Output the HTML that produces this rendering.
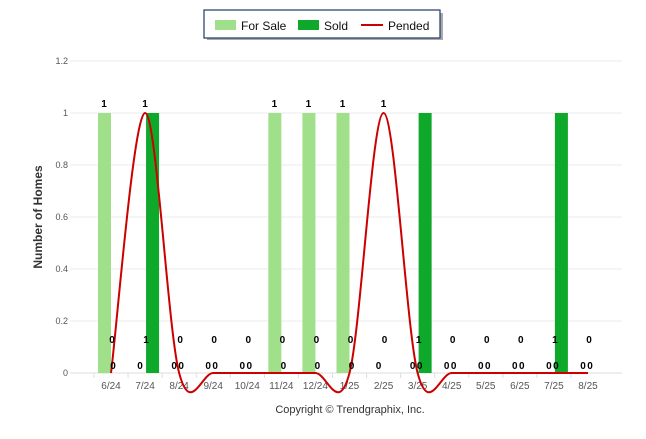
<!DOCTYPE html>
<html><head><meta charset="utf-8"><style>
body{margin:0;background:#fff;font-family:"Liberation Sans",sans-serif}
svg text{font-family:"Liberation Sans",sans-serif}
</style></head><body>
<svg id="c" width="646" height="434">
<g>
<rect x="207" y="13" width="236" height="27" fill="#555" opacity="0.5"/>
<rect x="204" y="10" width="236" height="28" fill="#fff" stroke="#1f3864" stroke-width="1.2"/>
<rect x="215" y="20" width="21" height="10" fill="#a0e08a"/>
<text x="241" y="30" font-size="12" fill="#111">For Sale</text>
<rect x="298" y="20" width="21" height="10" fill="#0ea82a"/>
<text x="324" y="30" font-size="12" fill="#111">Sold</text>
<line x1="361" y1="25" x2="383" y2="25" stroke="#cc0000" stroke-width="2"/>
<text x="388" y="30" font-size="12" fill="#111">Pended</text>
</g>
<text transform="translate(42,217) rotate(-90)" text-anchor="middle" font-size="12" font-weight="bold" fill="#333">Number of Homes</text>
<text x="350" y="413" text-anchor="middle" font-size="11" fill="#333">Copyright © Trendgraphix, Inc.</text>
<g id="plot"></g>
</svg>
<script>
const categories=["6/24","7/24","8/24","9/24","10/24","11/24","12/24","1/25","2/25","3/25","4/25","5/25","6/25","7/25","8/25"];
const forSale=[1,0,0,0,0,1,1,1,0,0,0,0,0,0,0];
const sold=[0,1,0,0,0,0,0,0,0,1,0,0,0,1,0];
const pended=[0,1,0,0,0,0,0,0,1,0,0,0,0,0,0];
const yTicks=[0,0.2,0.4,0.6,0.8,1,1.2];
const NS="http://www.w3.org/2000/svg";
const g=document.getElementById('plot');
const x=i=>111+i*34.07;
const y=v=>373-v*260;
function mk(t,a,p){const e=document.createElementNS(NS,t);for(const k in a)e.setAttribute(k,a[k]);(p||g).appendChild(e);return e;}
yTicks.forEach(v=>{
 const l=mk('line',{x1:70,x2:622,y1:y(v),y2:y(v),stroke:v===0?'#ddd':'#ebebeb'});
 
 
 const t=mk('text',{x:68,y:y(v)+3,'text-anchor':'end','font-size':9,fill:'#555'});t.textContent=v;
 
 
});
categories.forEach((c,i)=>{
 const tk=mk('line',{x1:x(i)-17,x2:x(i)-17,y1:373,y2:378,stroke:'#ddd'});
 
 
 const t=mk('text',{x:x(i),y:389,'text-anchor':'middle','font-size':10,fill:'#555'});t.textContent=c;
 
 
 if(forSale[i]>0){const r=mk('rect',{x:x(i)-13,y:y(forSale[i]),width:13,height:373-y(forSale[i]),fill:'#a0e08a'});
 
 }
 if(sold[i]>0){const r=mk('rect',{x:x(i)+1,y:y(sold[i]),width:13,height:373-y(sold[i]),fill:'#0ea82a'});
 
 }
});
// pended spline (catmull-rom)
const pts=pended.map((v,i)=>[x(i),y(v)]);
let d='M'+pts[0][0]+','+pts[0][1];
for(let i=0;i<pts.length-1;i++){
 const p0=pts[Math.max(0,i-1)],p1=pts[i],p2=pts[i+1],p3=pts[Math.min(pts.length-1,i+2)];
 const c1=[p1[0]+(p2[0]-p0[0])/6,p1[1]+(p2[1]-p0[1])/6],c2=[p2[0]-(p3[0]-p1[0])/6,p2[1]-(p3[1]-p1[1])/6];
 d+=` C${c1[0]},${c1[1]} ${c2[0]},${c2[1]} ${p2[0]},${p2[1]}`;
}
const pl=mk('path',{d:d,fill:'none',stroke:'#cc0000','stroke-width':2});


function lab(txt,xx,yy,name){const t=mk('text',{x:xx,y:yy,'text-anchor':'middle','font-size':10,'font-weight':'bold',fill:'#000'});t.textContent=txt;
 
 }
categories.forEach((c,i)=>{
 if(forSale[i]>0)lab(forSale[i],x(i)-7,y(forSale[i])-6,'for-sale-value');else lab(0,x(i)-5,369,'for-sale-value');
 lab(sold[i],x(i)+1,343,'sold-value');
 if(pended[i]>0)lab(pended[i],x(i),y(pended[i])-6,'pended-value');else lab(0,x(i)+2,369,'pended-value');
});
</script>
</body></html>
